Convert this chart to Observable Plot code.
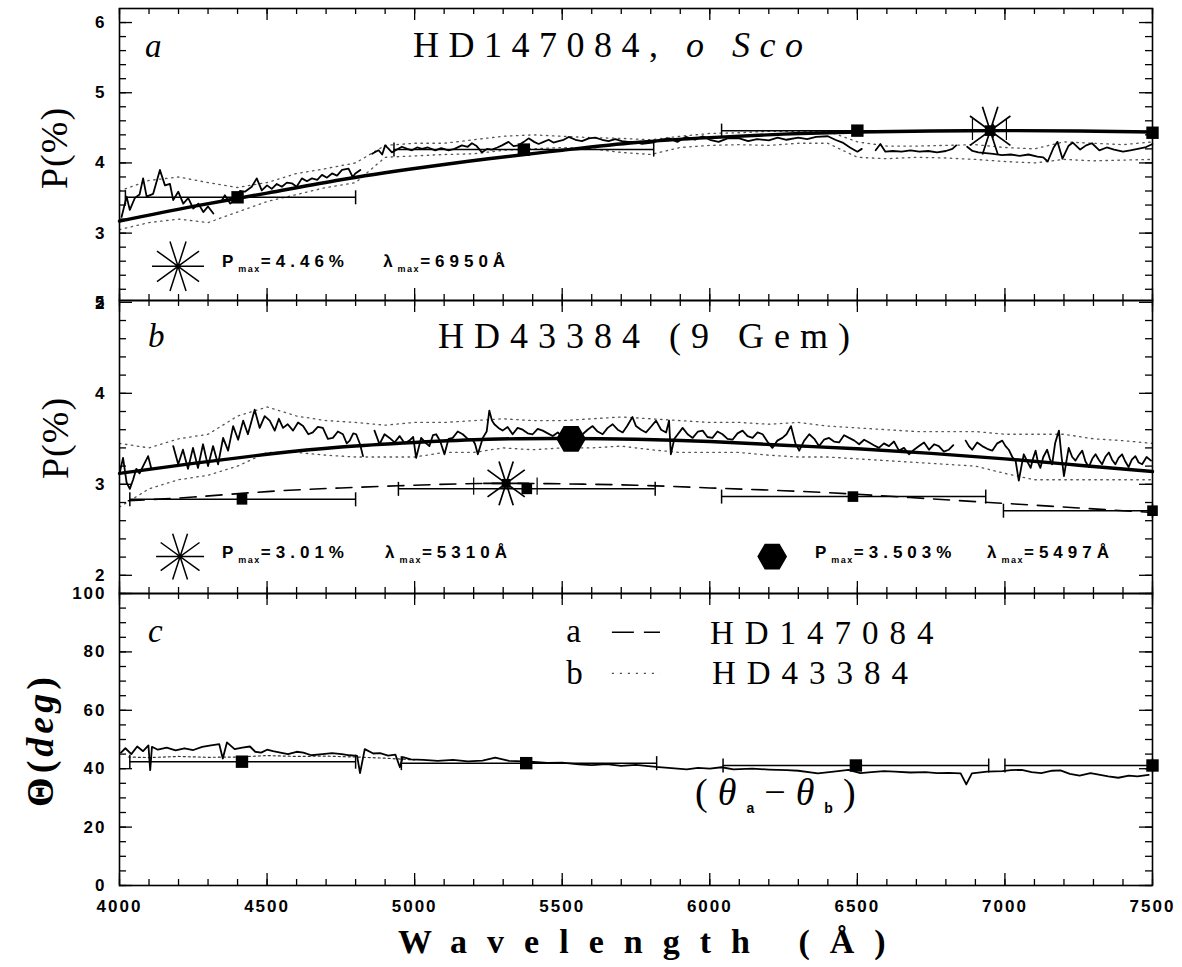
<!DOCTYPE html>
<html>
<head>
<meta charset="utf-8">
<script src="https://cdn.jsdelivr.net/npm/d3@7"></script>
<script src="https://cdn.jsdelivr.net/npm/@observablehq/plot@0.6"></script>
<style>
  html, body { margin: 0; padding: 0; background: #fff; }
  #chart { position: relative; width: 1182px; height: 967px; background: #fff; }
  #chart > svg { position: absolute; left: 0; overflow: visible; }
</style>
</head>
<body>
<div id="chart"></div>
<script>
// ======================= DATA =======================
const xTickLabels = [4000, 4500, 5000, 5500, 6000, 6500, 7000, 7500];
const yTicksA = [2, 3, 4, 5, 6];
const yTicksB = [2, 3, 4, 5];
const yTicksC = [0, 20, 40, 60, 80, 100];

// Panel a : HD147084 (o Sco) — spectropolarimetry [wavelength, P%] (null = gap)
const specA = [[4007,3.23],[4024,3.52],[4035,3.33],[4052,3.50],[4068,3.55],[4080,3.78],[4092,3.52],[4114,3.56],[4137,3.90],[4154,3.68],[4171,3.70],[4182,3.47],[4199,3.59],[4216,3.42],[4233,3.50],[4250,3.35],[4267,3.42],[4284,3.30],[4300,3.38],[4318,3.28],[4330,null],[4345,3.45],[4357,3.54],[4375,3.42],[4391,3.47],[4408,3.60],[4425,3.59],[4448,3.66],[4465,3.78],[4482,3.61],[4500,3.68],[4516,3.63],[4533,3.70],[4550,3.66],[4567,3.72],[4584,3.71],[4600,3.66],[4618,3.78],[4635,3.74],[4652,3.78],[4670,3.76],[4686,3.83],[4703,3.79],[4720,3.85],[4737,3.82],[4754,3.90],[4776,3.92],[4790,3.80],[4799,3.85],[4816,3.90],[4835,null],[4856,4.13],[4868,4.16],[4878,4.18],[4890,4.12],[4900,4.25],[4912,4.20],[4923,4.15],[4940,4.19],[4957,4.23],[4975,4.20],[4991,4.18],[5008,4.22],[5025,4.20],[5045,4.22],[5070,4.18],[5090,4.21],[5115,4.18],[5135,4.20],[5160,4.25],[5180,4.23],[5194,4.28],[5210,4.24],[5228,4.15],[5245,4.20],[5262,4.19],[5280,4.22],[5296,4.25],[5318,4.30],[5335,4.24],[5352,4.25],[5370,4.30],[5386,4.35],[5405,4.30],[5420,4.27],[5437,4.30],[5454,4.33],[5470,4.29],[5488,4.31],[5505,4.33],[5522,4.37],[5545,4.33],[5567,4.31],[5590,4.35],[5612,4.36],[5635,4.33],[5657,4.31],[5680,4.34],[5702,4.31],[5725,4.30],[5747,4.30],[5770,4.27],[5806,4.29],[5835,4.33],[5863,4.35],[5890,4.30],[5919,4.37],[5950,4.33],[5976,4.38],[6000,4.33],[6030,4.30],[6060,4.35],[6100,4.35],[6130,4.31],[6160,4.34],[6200,4.32],[6230,4.36],[6260,4.33],[6300,4.36],[6330,4.34],[6360,4.37],[6400,4.38],[6425,4.33],[6450,4.29],[6475,4.22],[6500,4.16],[6515,4.20],[6535,null],[6562,4.18],[6578,4.27],[6595,4.16],[6620,4.17],[6650,4.16],[6680,4.18],[6710,4.16],[6740,4.17],[6770,4.15],[6800,4.17],[6822,4.20],[6835,4.25],[6850,null],[6872,4.23],[6890,4.17],[6910,4.15],[6935,4.14],[6960,4.13],[6990,4.11],[7020,4.12],[7050,4.10],[7080,4.12],[7110,4.09],[7130,4.08],[7145,4.02],[7165,4.22],[7178,4.30],[7195,4.06],[7215,4.24],[7230,4.29],[7255,4.19],[7275,4.25],[7295,4.28],[7320,4.18],[7345,4.22],[7370,4.19],[7400,4.16],[7425,4.18],[7450,4.20],[7475,4.22],[7500,4.27]];
// error envelope [wavelength, lower, upper]
const envA = [[4000,3.05,3.60],[4100,3.15,3.75],[4200,3.20,3.80],[4300,3.15,3.72],[4400,3.30,3.65],[4500,3.45,3.72],[4600,3.55,3.85],[4700,3.65,3.92],[4800,3.72,4.00],[4900,4.08,4.25],[5000,4.10,4.28],[5100,4.12,4.28],[5200,4.13,4.33],[5300,4.18,4.38],[5400,4.20,4.40],[5500,4.22,4.38],[5600,4.20,4.36],[5700,4.15,4.35],[5800,4.12,4.33],[5900,4.22,4.38],[6000,4.25,4.42],[6100,4.26,4.43],[6200,4.25,4.45],[6300,4.28,4.45],[6400,4.28,4.45],[6500,4.08,4.30],[6600,4.06,4.24],[6700,4.08,4.24],[6800,4.07,4.25],[6900,4.05,4.26],[7000,4.02,4.22],[7100,4.00,4.20],[7200,4.05,4.30],[7300,4.03,4.28],[7400,4.04,4.26],[7500,4.05,4.30]];
// Serkowski curve
const fitA = [[4000,3.17],[4250,3.38],[4500,3.57],[4750,3.76],[5000,3.92],[5250,4.06],[5500,4.18],[5750,4.29],[6000,4.36],[6250,4.41],[6500,4.44],[6750,4.455],[7000,4.46],[7250,4.455],[7500,4.44]];
// broadband points [wavelength, P, band start, band end]
const bandsA = [[4400,3.51,4020,4800],[5370,4.19,4930,5810],[6500,4.46,6040,6960],[7500,4.43,null,null]];
const maxA = [[6950,4.46]];
const maxBoxA = [[6890,4.32,4.62],[7005,4.32,4.62]];

// Panel b : HD43384 (9 Gem)
const specB = [[4001,3.13],[4012,3.29],[4024,3.02],[4035,2.95],[4046,3.05],[4057,3.17],[4068,3.12],[4080,3.20],[4097,3.31],[4108,3.17],[4140,null],[4182,3.42],[4199,3.22],[4215,3.38],[4232,3.17],[4249,3.40],[4266,3.18],[4283,3.44],[4300,3.20],[4317,3.42],[4334,3.22],[4351,3.51],[4368,3.37],[4385,3.64],[4402,3.49],[4419,3.70],[4435,3.55],[4458,3.82],[4475,3.62],[4492,3.75],[4509,3.70],[4526,3.59],[4540,3.72],[4554,3.62],[4570,3.66],[4588,3.59],[4605,3.68],[4622,3.64],[4640,3.55],[4655,3.57],[4672,3.63],[4689,3.62],[4706,3.50],[4723,3.51],[4740,3.58],[4757,3.55],[4770,3.45],[4780,3.48],[4792,3.56],[4802,3.55],[4815,3.44],[4825,3.31],[4845,null],[4864,3.59],[4881,3.44],[4898,3.55],[4915,3.51],[4932,3.46],[4949,3.53],[4966,3.45],[4982,3.48],[4995,3.52],[5005,3.29],[5022,3.51],[5036,3.46],[5050,3.42],[5062,3.54],[5073,3.55],[5087,3.47],[5101,3.33],[5115,3.50],[5129,3.51],[5146,3.58],[5163,3.55],[5180,3.50],[5197,3.49],[5205,3.44],[5214,3.33],[5231,3.51],[5244,3.58],[5253,3.81],[5262,3.70],[5270,3.66],[5284,3.62],[5298,3.59],[5315,3.63],[5332,3.55],[5349,3.62],[5366,3.60],[5383,3.56],[5400,3.55],[5417,3.61],[5434,3.59],[5451,3.56],[5468,3.53],[5485,3.57],[5500,3.52],[5530,3.50],[5552,3.54],[5569,3.55],[5586,3.60],[5603,3.64],[5620,3.58],[5637,3.55],[5654,3.62],[5671,3.66],[5688,3.60],[5705,3.57],[5720,3.64],[5738,3.74],[5750,3.64],[5767,3.60],[5784,3.57],[5800,3.63],[5818,3.70],[5835,3.60],[5852,3.57],[5862,3.70],[5868,3.33],[5880,3.50],[5908,3.62],[5925,3.55],[5942,3.51],[5960,3.58],[5976,3.59],[5992,3.52],[6009,3.51],[6026,3.58],[6043,3.55],[6060,3.50],[6077,3.49],[6094,3.56],[6111,3.59],[6128,3.53],[6145,3.51],[6162,3.57],[6179,3.55],[6195,3.47],[6212,3.40],[6229,3.48],[6246,3.51],[6260,3.55],[6275,3.64],[6290,3.45],[6303,3.37],[6320,3.48],[6337,3.55],[6354,3.50],[6370,3.42],[6387,3.49],[6404,3.51],[6421,3.47],[6438,3.46],[6455,3.54],[6472,3.51],[6490,3.48],[6506,3.44],[6523,3.49],[6540,3.46],[6556,3.43],[6573,3.40],[6590,3.45],[6607,3.42],[6624,3.47],[6641,3.37],[6658,3.40],[6675,3.33],[6692,3.38],[6709,3.42],[6726,3.46],[6743,3.38],[6760,3.44],[6776,3.42],[6793,3.36],[6810,3.38],[6825,3.43],[6845,null],[6867,3.48],[6878,3.42],[6889,3.38],[6906,3.46],[6923,3.42],[6940,3.39],[6957,3.37],[6974,3.45],[6991,3.48],[7002,3.42],[7013,3.38],[7025,3.30],[7036,3.26],[7047,3.04],[7056,3.20],[7064,3.33],[7076,3.25],[7087,3.18],[7095,3.28],[7104,3.37],[7112,3.24],[7120,3.18],[7130,3.30],[7143,3.38],[7152,3.28],[7160,3.22],[7170,3.45],[7183,3.59],[7192,3.30],[7200,3.09],[7208,3.25],[7216,3.40],[7228,3.30],[7239,3.26],[7250,3.32],[7262,3.37],[7273,3.25],[7284,3.19],[7296,3.28],[7307,3.33],[7318,3.27],[7329,3.22],[7340,3.30],[7352,3.35],[7363,3.27],[7374,3.22],[7385,3.29],[7397,3.33],[7408,3.25],[7419,3.19],[7430,3.27],[7442,3.31],[7453,3.24],[7465,3.22],[7480,3.30],[7495,3.26]];
const envB = [[4000,2.75,3.45],[4100,2.95,3.40],[4200,3.05,3.50],[4300,3.10,3.55],[4400,3.20,3.75],[4500,3.35,3.85],[4600,3.35,3.75],[4700,3.32,3.70],[4800,3.30,3.68],[4900,3.30,3.65],[5000,3.30,3.68],[5100,3.35,3.68],[5200,3.35,3.70],[5300,3.40,3.72],[5400,3.38,3.70],[5500,3.40,3.70],[5600,3.40,3.72],[5700,3.42,3.74],[5800,3.38,3.72],[5900,3.35,3.70],[6000,3.35,3.68],[6100,3.35,3.68],[6200,3.32,3.66],[6300,3.30,3.68],[6400,3.30,3.64],[6500,3.28,3.62],[6600,3.26,3.60],[6700,3.24,3.58],[6800,3.22,3.58],[6900,3.20,3.58],[7000,3.12,3.55],[7100,3.05,3.55],[7200,3.05,3.55],[7300,3.05,3.50],[7400,3.05,3.48],[7500,3.05,3.45]];
const fitB = [[4000,3.12],[4250,3.23],[4500,3.33],[4750,3.41],[5000,3.46],[5250,3.495],[5500,3.503],[5750,3.495],[6000,3.47],[6250,3.43],[6500,3.39],[6750,3.34],[7000,3.28],[7250,3.21],[7500,3.14]];
const fitBroadB = [[4030,2.82],[4250,2.86],[4500,2.92],[4750,2.96],[5000,2.99],[5250,3.01],[5500,3.005],[5750,2.99],[6000,2.96],[6250,2.93],[6500,2.89],[6750,2.84],[7000,2.79],[7250,2.74],[7500,2.69]];
const bandsB = [[4415,2.835,4035,4800],[5380,2.95,4945,5815],[6485,2.865,6040,6935],[7500,2.71,6995,7500]];
const maxB = [[5310,3.01]];
const maxBoxB = [[5200,2.88,3.07],[5415,2.88,3.07]];
const maxSpecB = [[5530,3.50]];

// Panel c : position angle [wavelength, theta deg]
const thetaA = [[4005,45.5],[4020,47.0],[4040,45.0],[4060,47.6],[4080,46.0],[4098,48.0],[4104,39.5],[4110,47.5],[4130,46.5],[4160,47.2],[4190,46.3],[4220,47.0],[4250,46.4],[4280,47.5],[4310,48.0],[4338,48.4],[4350,43.5],[4364,49.0],[4390,46.7],[4416,47.2],[4442,47.6],[4460,45.8],[4480,45.5],[4500,46.5],[4520,46.0],[4545,45.5],[4571,45.0],[4600,45.8],[4623,45.5],[4650,44.6],[4688,45.0],[4720,45.3],[4753,45.0],[4780,44.6],[4805,44.4],[4815,38.5],[4831,46.7],[4860,45.2],[4883,45.3],[4910,44.5],[4935,44.8],[4950,40.5],[4960,44.0],[4987,43.2],[5030,43.0],[5078,42.7],[5130,43.0],[5180,42.5],[5230,42.8],[5273,43.8],[5320,42.7],[5370,42.5],[5403,42.3],[5450,42.0],[5500,42.1],[5556,41.5],[5600,41.2],[5650,41.6],[5700,41.0],[5750,41.3],[5817,40.6],[5870,40.2],[5922,39.8],[5960,40.3],[6000,40.0],[6040,40.5],[6080,39.8],[6144,40.0],[6200,39.7],[6261,39.5],[6300,39.3],[6366,38.4],[6420,39.0],[6470,39.6],[6510,38.5],[6548,38.8],[6590,39.2],[6627,39.0],[6680,38.7],[6731,38.8],[6770,38.5],[6810,38.6],[6850,38.4],[6869,34.6],[6888,38.4],[6940,39.0],[6992,39.2],[7020,39.5],[7057,39.6],[7090,38.8],[7123,38.5],[7160,39.3],[7188,39.4],[7220,38.2],[7253,37.6],[7290,38.5],[7318,38.0],[7350,37.4],[7384,36.9],[7420,37.6],[7449,37.4],[7487,37.9]];
const thetaB = [[4030,44.0],[4100,43.8],[4200,44.2],[4300,43.9],[4400,44.0],[4500,44.5],[4600,44.2],[4700,44.3],[4800,44.0],[4900,43.6],[5000,43.0]];
const bandsC = [[4415,42.4,4035,4800],[5378,41.9,4955,5820],[6495,41.1,6045,6945],[7500,41.1,7000,7500]];

// ======================= RENDERING =======================
const W = 1182, ML = 119, MR = 30, FW = W - ML - MR;
const SANS = "'Liberation Sans', Arial, Helvetica, sans-serif";
const SERIF = "'Liberation Serif', 'Times New Roman', serif";
const xMinor = d3.range(4000, 7501, 100);

const asterisk = { draw(ctx, size) {
  const r = Math.sqrt(size / Math.PI);
  for (let k = 0; k < 5; k++) {
    const a = k * Math.PI / 5;
    ctx.moveTo(r * Math.cos(a), r * Math.sin(a));
    ctx.lineTo(-r * Math.cos(a), -r * Math.sin(a));
  }
}};
const hexagon = { draw(ctx, size) {
  const r = Math.sqrt(size / Math.PI);
  ctx.moveTo(r, 0);
  for (let k = 1; k < 6; k++) { const a = k * Math.PI / 3; ctx.lineTo(r * Math.cos(a), r * Math.sin(a)); }
  ctx.closePath();
}};
const vbar = { draw(ctx, size) {
  const r = Math.sqrt(size / Math.PI);
  ctx.moveTo(0, -r); ctx.lineTo(0, r);
}};

function frameTicks(fh, yMajor, yMinor) {
  const o = {stroke: "black", strokeWidth: 1.3};
  return [
    Plot.tickX(xMinor, {x: d => d, insetTop: fh - 6, ...o}),
    Plot.tickX(xMinor, {x: d => d, insetBottom: fh - 6, ...o}),
    Plot.tickX(xTickLabels, {x: d => d, insetTop: fh - 12, ...o}),
    Plot.tickX(xTickLabels, {x: d => d, insetBottom: fh - 12, ...o}),
    Plot.tickY(yMinor, {y: d => d, insetRight: FW - 7, ...o}),
    Plot.tickY(yMinor, {y: d => d, insetLeft: FW - 7, ...o}),
    Plot.tickY(yMajor, {y: d => d, insetRight: FW - 13, ...o}),
    Plot.tickY(yMajor, {y: d => d, insetLeft: FW - 13, ...o}),
    Plot.frame({stroke: "black", strokeWidth: 1.6})
  ];
}
function yLabels(ticks) {
  return Plot.text(ticks, {y: d => d, frameAnchor: "left", dx: -13, textAnchor: "end", text: d => String(d),
    fontSize: 17, fontWeight: "bold", fontFamily: SANS, fill: "black"});
}
function bandMarks(bands, r) {
  const withBar = bands.filter(d => d[2] != null);
  const ends = withBar.flatMap(d => [[d[2], d[1]], [d[3], d[1]]]);
  return [
    Plot.ruleY(withBar, {y: d => d[1], x1: d => d[2], x2: d => d[3], stroke: "black", strokeWidth: 1.5}),
    Plot.dot(ends, {x: d => d[0], y: d => d[1], symbol: vbar, r: 7, stroke: "black", strokeWidth: 1.5, fill: "none"}),
    Plot.dot(bands, {x: d => d[0], y: d => d[1], symbol: "square", r: r, fill: "black", stroke: "none"})
  ];
}
function basePlot(opts) {
  return Plot.plot({
    width: W, height: opts.height,
    marginLeft: ML, marginRight: MR, marginTop: opts.mt, marginBottom: opts.mb,
    style: {background: "transparent", overflow: "visible", fontFamily: SANS, letterSpacing: "2px", color: "black"},
    x: {domain: [4000, 7500], axis: null},
    y: {domain: opts.yDomain, axis: null},
    marks: opts.marks
  });
}
function addText(svg, x, y, parts, o = {}) {
  const t = d3.select(svg).append("text")
    .attr("x", x).attr("y", y).attr("fill", "black")
    .attr("text-anchor", o.anchor || "start")
    .style("font-family", o.family || SANS)
    .style("font-size", (o.size || 16) + "px")
    .style("font-weight", o.weight || "normal")
    .style("font-style", o.italic ? "italic" : "normal")
    .style("letter-spacing", (o.ls || 0) + "px");
  if (o.rotate) t.attr("transform", `rotate(${o.rotate},${x},${y})`);
  if (o.baseline) t.attr("dominant-baseline", o.baseline);
  for (const p of parts) {
    const s = t.append("tspan").text(typeof p === "string" ? p : p.t);
    if (typeof p !== "string") {
      if (p.dy) s.attr("dy", p.dy);
      if (p.size) s.style("font-size", p.size + "px");
      if (p.italic !== undefined) s.style("font-style", p.italic ? "italic" : "normal");
      if (p.weight) s.style("font-weight", p.weight);
      if (p.family) s.style("font-family", p.family);
      if (p.ls !== undefined) s.style("letter-spacing", p.ls + "px");
    }
  }
  return t;
}
function addSymbol(svg, x, y, type, r, filled) {
  d3.select(svg).append("path")
    .attr("transform", `translate(${x},${y})`)
    .attr("d", d3.symbol().type(type).size(Math.PI * r * r)())
    .attr("fill", filled ? "black" : "none")
    .attr("stroke", "black").attr("stroke-width", 1.5);
}
const sub = (t) => ({t, size: 9, dy: 5, ls: 1.5});
const unsub = (t) => ({t, dy: -5});
const legendOpts = {weight: "bold", size: 17, ls: 5};

const chart = document.getElementById("chart");
const line = (data, o = {}) => Plot.line(data, {x: d => d[0], y: d => d[1], stroke: "black", strokeWidth: 1.8, strokeLinejoin: "round", ...o});
const envLines = (env) => [
  Plot.line(env, {x: d => d[0], y: d => d[1], stroke: "#555", strokeWidth: 1.3, strokeDasharray: "1.5,4.5"}),
  Plot.line(env, {x: d => d[0], y: d => d[2], stroke: "#555", strokeWidth: 1.3, strokeDasharray: "1.5,4.5"})
];

// ---- Panel a ----
const pa = basePlot({
  height: 300, mt: 8, mb: 0, yDomain: [2.04, 6.2],
  marks: [
    ...envLines(envA),
    line(specA),
    line(fitA, {strokeWidth: 3.4, curve: "natural"}),
    ...bandMarks(bandsA, 7),
    Plot.ruleX(maxBoxA, {x: d => d[0], y1: d => d[1], y2: d => d[2], stroke: "black", strokeWidth: 1.2}),
    Plot.dot(maxA, {x: d => d[0], y: d => d[1], symbol: asterisk, r: 25, stroke: "black", strokeWidth: 1.7, fill: "none"}),
    Plot.dot(maxA, {x: d => d[0], y: d => d[1], symbol: "square", r: 6, fill: "black"}),
    ...frameTicks(292, [3, 4, 5, 6], d3.range(2.2, 6.1, 0.2)),
    yLabels(yTicksA)
  ]
});
pa.style.top = "0px";
chart.appendChild(pa);
{
  const sx = pa.scale("x").apply, sy = pa.scale("y").apply;
  addText(pa, sx(4088), sy(5.50), ["a"], {family: SERIF, italic: true, size: 33});
  addText(pa, sx(4996), sy(5.50), ["HD147084, ", {t: "o Sco", italic: true}], {family: SERIF, size: 36, ls: 9.5});
  addSymbol(pa, sx(4200), sy(2.52), asterisk, 26, false);
  addText(pa, sx(4349), sy(2.51), ["P", sub("max"), unsub("=4.46%")], legendOpts);
  addText(pa, sx(4895), sy(2.51), ["λ", sub("max"), unsub("=6950Å")], legendOpts);
}

// ---- Panel b ----
const pb = basePlot({
  height: 293, mt: 0, mb: 0, yDomain: [1.8, 5.02],
  marks: [
    ...envLines(envB),
    line(specB),
    line(fitB, {strokeWidth: 3.4, curve: "natural"}),
    line(fitBroadB, {strokeWidth: 1.6, curve: "natural", strokeDasharray: "16,10"}),
    ...bandMarks(bandsB, 6),
    Plot.ruleX(maxBoxB, {x: d => d[0], y1: d => d[1], y2: d => d[2], stroke: "black", strokeWidth: 1.2}),
    Plot.dot(maxB, {x: d => d[0], y: d => d[1], symbol: asterisk, r: 23, stroke: "black", strokeWidth: 1.7, fill: "none"}),
    Plot.dot(maxB, {x: d => d[0], y: d => d[1], symbol: "square", r: 5, fill: "black"}),
    Plot.dot(maxSpecB, {x: d => d[0], y: d => d[1], symbol: hexagon, r: 14, fill: "black", stroke: "black"}),
    ...frameTicks(293, [2, 3, 4, 5], d3.range(2.0, 5.0, 0.2)),
    yLabels(yTicksB)
  ]
});
pb.style.top = "300px";
chart.appendChild(pb);
{
  const sx = pb.scale("x").apply, sy = pb.scale("y").apply;
  addText(pb, sx(4098), sy(4.50), ["b"], {family: SERIF, italic: true, size: 33});
  addText(pb, sx(5081), sy(4.49), ["HD43384 (9 Gem)"], {family: SERIF, size: 36, ls: 10});
  addSymbol(pb, sx(4207), sy(2.20), asterisk, 24, false);
  addText(pb, sx(4349), sy(2.185), ["P", sub("max"), unsub("=3.01%")], legendOpts);
  addText(pb, sx(4901), sy(2.185), ["λ", sub("max"), unsub("=5310Å")], legendOpts);
  addSymbol(pb, sx(6213), sy(2.20), hexagon, 14, true);
  addText(pb, sx(6358), sy(2.185), ["P", sub("max"), unsub("=3.503%")], legendOpts);
  addText(pb, sx(6941), sy(2.185), ["λ", sub("max"), unsub("=5497Å")], legendOpts);
}

// ---- Panel c ----
const pc = basePlot({
  height: 374, mt: 0, mb: 82, yDomain: [0, 100],
  marks: [
    line(thetaB, {strokeWidth: 1.2, stroke: "#333", strokeDasharray: "2,3"}),
    line(thetaA, {strokeWidth: 1.8}),
    ...bandMarks(bandsC, 7),
    ...frameTicks(292, [0, 20, 40, 60, 80, 100], d3.range(0, 101, 5)),
    yLabels(yTicksC),
    Plot.text(xTickLabels, {x: d => d, frameAnchor: "bottom", dy: 26, text: d => String(d),
      fontSize: 17, fontWeight: "bold", fontFamily: SANS, fill: "black"})
  ]
});
pc.style.top = "593px";
chart.appendChild(pc);
{
  const sx = pc.scale("x").apply, sy = pc.scale("y").apply;
  addText(pc, sx(4098), sy(83.2), ["c"], {family: SERIF, italic: true, size: 33});
  addText(pc, sx(5515), sy(83.2), ["a"], {family: SERIF, size: 33});
  addText(pc, sx(5515), sy(69.0), ["b"], {family: SERIF, size: 33});
  const g = d3.select(pc);
  g.append("line").attr("x1", sx(5670)).attr("x2", sx(5833)).attr("y1", sy(86.6)).attr("y2", sy(86.6))
    .attr("stroke", "black").attr("stroke-width", 1.5).attr("stroke-dasharray", "22,10");
  g.append("line").attr("x1", sx(5670)).attr("x2", sx(5833)).attr("y1", sy(72.5)).attr("y2", sy(72.5))
    .attr("stroke", "#444").attr("stroke-width", 1.2).attr("stroke-dasharray", "2,6");
  addText(pc, sx(6002), sy(82.6), ["HD147084"], {family: SERIF, size: 33, ls: 11});
  addText(pc, sx(6009), sy(68.8), ["HD43384"], {family: SERIF, size: 33, ls: 11});
  addText(pc, sx(5952), sy(27.4), ["(", {t: "θ", italic: true}, {t: "a", size: 14, dy: 8, family: SANS, weight: "bold", italic: false},
    {t: "−", dy: -8}, {t: "θ", italic: true}, {t: "b", size: 14, dy: 8, family: SANS, weight: "bold", italic: false}, {t: ")", dy: -8}],
    {family: SERIF, size: 38, ls: 10});
}

// ---- Axis titles (overlay) ----
const ov = d3.select(chart).append("svg").attr("width", W).attr("height", 967).style("top", "0px").style("pointer-events", "none").node();
addText(ov, 54, 148, ["P(%)"], {family: SERIF, size: 38, anchor: "middle", rotate: -90, baseline: "central", ls: 1});
addText(ov, 55, 438, ["P(%)"], {family: SERIF, size: 38, anchor: "middle", rotate: -90, baseline: "central", ls: 1});
addText(ov, 40, 740, ["Θ(", {t: "deg", italic: true}, ")"], {family: SERIF, size: 38, weight: "bold", anchor: "middle", rotate: -90, baseline: "central", ls: 4});
addText(ov, 398, 953, ["Wavelength (Å)"], {family: SERIF, size: 34, weight: "bold", ls: 20});
</script>
</body>
</html>
